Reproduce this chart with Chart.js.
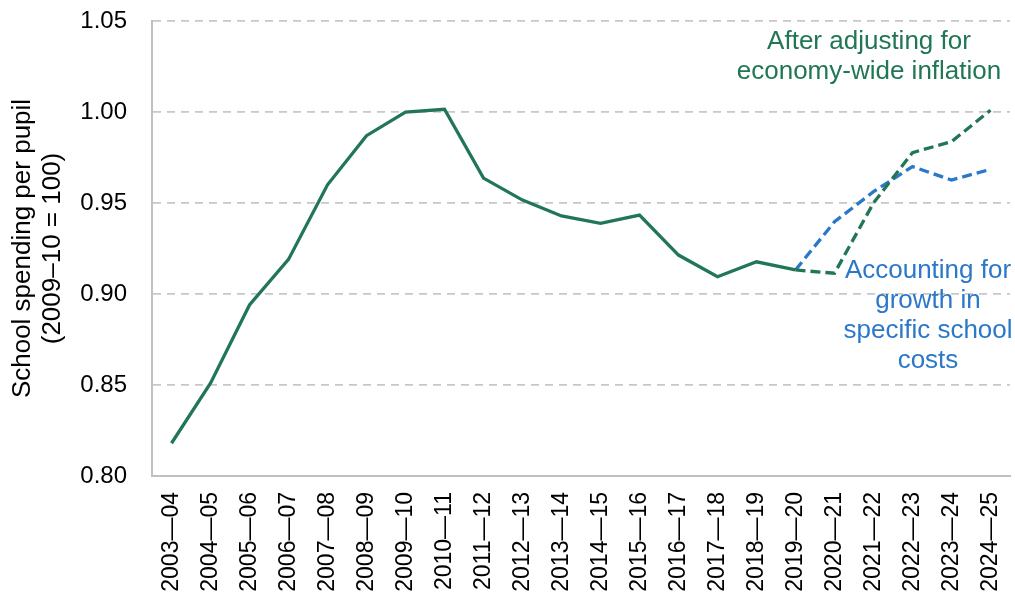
<!DOCTYPE html>
<html><head><meta charset="utf-8">
<script src="https://cdn.jsdelivr.net/npm/chart.js@4.4.0/dist/chart.umd.min.js"></script>
<style>html,body{margin:0;padding:0;background:#fff}#wrap{width:1015px;height:597px;position:relative}</style>
</head><body><div id="wrap"><canvas id="c" width="1015" height="597"></canvas></div>
<script>
const categories = ["2003—04","2004—05","2005—06","2006—07","2007—08","2008—09","2009—10","2010—11","2011—12","2012—13","2013—14","2014—15","2015—16","2016—17","2017—18","2018—19","2019—20","2020—21","2021—22","2022—23","2023—24","2024—25"];
const historical = [0.818,0.851,0.894,0.919,0.960,0.987,1.000,1.0015,0.9637,0.9516,0.9429,0.9388,0.9434,0.9214,0.9095,0.9177,0.9132,null,null,null,null,null];
const economyWide = [null,null,null,null,null,null,null,null,null,null,null,null,null,null,null,null,0.9132,0.9114,0.950,0.9777,0.9837,1.001];
const schoolCosts = [null,null,null,null,null,null,null,null,null,null,null,null,null,null,null,null,0.9132,0.9397,0.9562,0.970,0.9626,0.9685];
const yTicks = [0.80,0.85,0.90,0.95,1.00,1.05];
const greenLabel = ['After adjusting for','economy-wide inflation'];
const blueLabel = ['Accounting for','growth in','specific school','costs'];

const GREEN = '#217656';
const BLUE = '#2b78c9';
const FONT = "'Liberation Sans', Arial, sans-serif";
const CLEAR = 'rgba(0,0,0,0)';

const annot = {
  id:'annot',
  afterDatasetsDraw(chart){
    const ctx = chart.ctx;
    ctx.save();
    ctx.font = "26px " + FONT;
    ctx.textAlign = 'center';
    ctx.textBaseline = 'middle';
    ctx.fillStyle = GREEN;
    greenLabel.forEach((t,i)=>ctx.fillText(t, 869, 42 + i*30));
    ctx.fillStyle = BLUE;
    blueLabel.forEach((t,i)=>ctx.fillText(t, 928, 271 + i*30));
    ctx.restore();
  }
};

new Chart(document.getElementById('c'), {
  type:'line',
  data:{labels:categories, datasets:[
    {data:historical, borderColor:GREEN, borderWidth:3.3, pointRadius:0, tension:0},
    {data:economyWide, borderColor:GREEN, borderWidth:3.3, borderDash:[10,5], pointRadius:0, tension:0},
    {data:schoolCosts, borderColor:BLUE, borderWidth:3.3, borderDash:[10,5], pointRadius:0, tension:0}
  ]},
  options:{
    responsive:false, animation:false,
    layout:{padding:{top:21,right:5,left:0,bottom:0}},
    plugins:{legend:{display:false}, tooltip:{enabled:false}},
    scales:{
      x:{
        offset:true,
        grid:{display:true, color:CLEAR, drawTicks:true, tickLength:15, tickColor:CLEAR, offset:true},
        border:{color:'#c0c0c0', width:2},
        ticks:{color:'#000', font:{family:FONT, size:23, lineHeight:0.3}, minRotation:90, maxRotation:90, padding:1, autoSkip:false},
        afterFit(s){ s.height = 121; }
      },
      y:{
        min:0.80, max:1.05,
        afterBuildTicks(s){ s.ticks = yTicks.map(v=>({value:v})); },
        grid:{color:'#c8c8c8', lineWidth:1.8, drawTicks:true, tickLength:24, tickColor:CLEAR},
        border:{color:'#c0c0c0', width:2, dash:[8,6]},
        ticks:{color:'#000', font:{family:FONT, size:24}, padding:1, callback:(v)=>Number(v).toFixed(2)},
        title:{display:true, text:['School spending per pupil','(2009–10 = 100)'], color:'#000', font:{family:FONT, size:26, lineHeight:'30px'}, padding:{top:8,bottom:0}},
        afterFit(s){ s.width = 152; }
      }
    }
  },
  plugins:[annot]
});
</script></body></html>
